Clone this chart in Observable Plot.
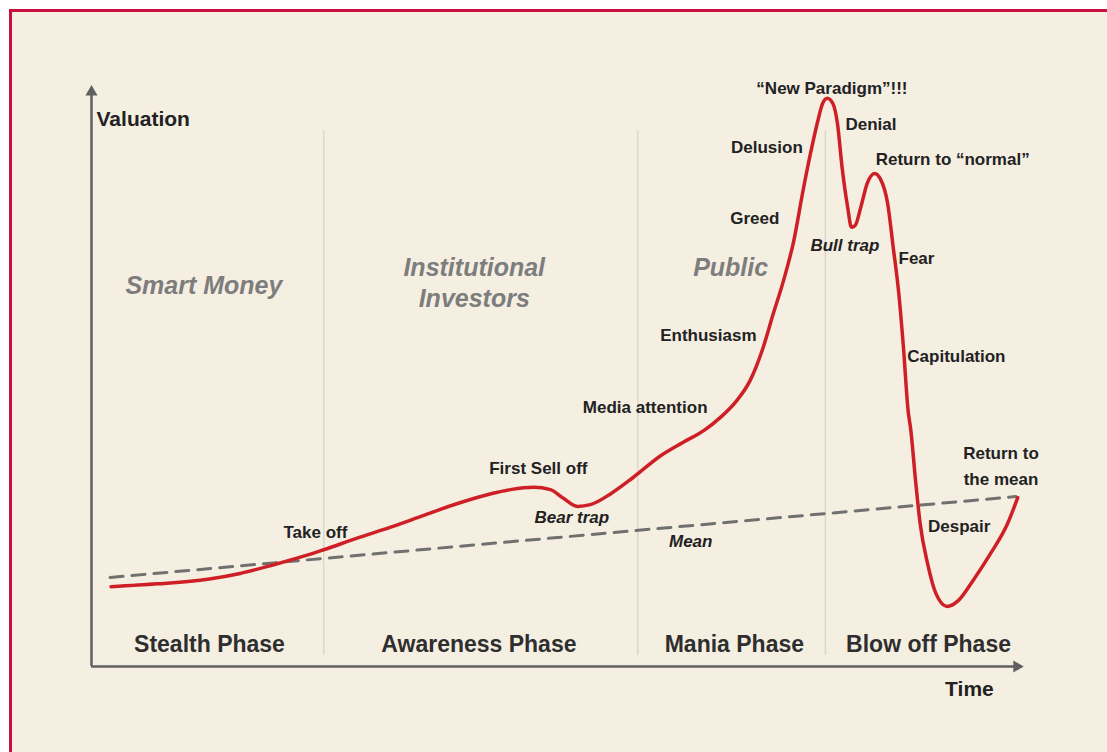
<!DOCTYPE html>
<html><head><meta charset="utf-8">
<script src="https://cdn.jsdelivr.net/npm/d3@7"></script>
<script src="https://cdn.jsdelivr.net/npm/@observablehq/plot@0.6"></script>
<style>
html,body{margin:0;padding:0;background:#fff;width:1107px;height:752px;overflow:hidden}
#frame{position:absolute;left:9px;top:9px;width:1098px;height:743px;border-top:3px solid #c8103f;border-left:3px solid #c8103f;background:#f5efe2;box-sizing:border-box}
#chart{position:absolute;left:0;top:0}
</style></head><body>
<div id="frame"></div><div id="chart"></div>
<script>
// Market cycle curve (time 0-100, valuation 0-100)
const curveTime  = [2.1, 7.1, 12.5, 16.0, 19.6, 23.3, 25.0, 28.6, 32.2, 35.7, 39.4, 43.0, 45.1, 47.6, 49.4, 50.8, 52.3, 53.7, 55.9, 58.3, 61.3, 63.7, 65.9, 67.7, 69.3, 70.9, 72.3, 73.4, 74.5, 75.6, 76.6, 77.4, 78.2, 78.7, 79.2, 79.8, 80.3, 80.8, 81.4, 81.8, 82.2, 82.8, 83.5, 84.3, 84.9, 85.7, 86.3, 86.9, 87.4, 87.9, 88.2, 88.7, 89.2, 90.0, 90.9, 92.1, 93.3, 94.9, 96.8, 98.6, 99.7];
const curveValue = [13.8, 14.3, 15.1, 16.1, 17.6, 19.3, 20.2, 22.2, 24.1, 26.1, 28.2, 29.9, 30.6, 31.0, 30.6, 29.1, 27.7, 28.0, 29.9, 32.7, 36.5, 38.8, 40.8, 43.1, 45.7, 49.5, 55.2, 61.1, 66.8, 73.7, 82.4, 88.8, 94.5, 97.4, 98.3, 97.4, 93.9, 86.3, 79.4, 76.0, 76.3, 79.4, 83.6, 85.3, 84.4, 80.1, 72.5, 64.5, 55.2, 44.3, 40.8, 32.2, 24.7, 17.8, 12.6, 10.4, 11.4, 14.9, 19.6, 24.7, 29.2];
// Long-run mean (dashed)
const meanTime  = [2.0, 99.5];
const meanValue = [15.4, 29.4];
// Phases
const phaseNames   = ["Stealth Phase", "Awareness Phase", "Mania Phase", "Blow off Phase"];
const phaseCenters = [12.7, 41.7, 69.2, 90.1];
const phaseBounds  = [25.0, 58.8, 79.0];
// Participant groups
const groupNames = ["Smart Money", "Institutional", "Investors", "Public"];
const groupTime  = [12.1, 41.2, 41.2, 68.8];
const groupValue = [65.9, 68.9, 63.5, 68.9];
// Sentiment annotations
const noteNames = ["Take off", "First Sell off", "Media attention", "Enthusiasm", "Greed", "Delusion", "\u201CNew Paradigm\u201D!!!", "Denial", "Return to \u201Cnormal\u201D", "Fear", "Capitulation", "Return to", "the mean", "Despair"];
const noteTime  = [24.1, 48.1, 59.6, 66.4, 71.4, 72.7, 79.7, 83.9, 92.7, 88.8, 93.1, 97.9, 97.9, 93.4];
const noteValue = [23.2, 34.3, 44.8, 57.3, 77.5, 89.8, 100.0, 93.8, 87.7, 70.6, 53.6, 36.9, 32.4, 24.2];
const trapNames = ["Bear trap", "Mean", "Bull trap"];
const trapTime  = [51.7, 64.5, 81.1];
const trapValue = [25.8, 21.6, 72.8];

const curve = curveTime.map((t, i) => ({t, v: curveValue[i]}));
const mean = meanTime.map((t, i) => ({t, v: meanValue[i]}));
const font = "'Liberation Sans', Arial, sans-serif";
const txt = (labels, xs, ys, o) => Plot.text(labels, {x: (d, i) => xs[i], y: (d, i) => ys[i], text: d => d, fontFamily: font, ...o});

const chart = Plot.plot({
  width: 1107, height: 752,
  marginLeft: 91, marginRight: 87, marginTop: 88, marginBottom: 86,
  x: {domain: [0, 100], axis: null},
  y: {domain: [0, 100], axis: null},
  style: {background: "transparent", overflow: "visible"},
  marks: [
    Plot.ruleX(phaseBounds, {x: d => d, y1: 1.9, y2: 92.7, stroke: "#ddd7cb", strokeWidth: 1.5}),
    Plot.line(mean, {x: "t", y: "v", stroke: "#707070", strokeWidth: 3, strokeDasharray: "13,9"}),
    Plot.line(curve, {x: "t", y: "v", stroke: "#cf1f26", strokeWidth: 3.5, curve: "monotone-x"}),
    Plot.ruleY([0], {x1: 0, x2: 99.6, stroke: "#606060", strokeWidth: 2.5}),
    Plot.ruleX([0], {y1: 0, y2: 99.4, stroke: "#606060", strokeWidth: 2.5}),
    Plot.dot([[99.6, 0, 90], [0, 99.4, 0]], {x: d => d[0], y: d => d[1], rotate: d => d[2], symbol: "triangle", r: 4.5, fill: "#606060"}),
    txt(["Valuation"], [0.54], [94.6], {textAnchor: "start", fontSize: 21, fontWeight: "bold", fill: "#222"}),
    txt(["Time"], [94.5], [-4.0], {fontSize: 21, fontWeight: "bold", fill: "#222"}),
    txt(phaseNames, phaseCenters, phaseCenters.map(() => 3.8), {fontSize: 23, fontWeight: "bold", fill: "#2e2e2e", ariaLabel: "phases"}),
    txt(groupNames, groupTime, groupValue, {fontSize: 25, fontWeight: "bold", fontStyle: "italic", fill: "#7d7d7d", ariaLabel: "groups"}),
    txt(noteNames, noteTime, noteValue, {fontSize: 17, fontWeight: "bold", fill: "#222"}),
    txt(trapNames, trapTime, trapValue, {fontSize: 17, fontWeight: "bold", fontStyle: "italic", fill: "#222"})
  ]
});
document.getElementById("chart").append(chart);
d3.select(chart).selectAll('g[aria-label="phases"] text').style("letter-spacing", "0.4px");
d3.select(chart).selectAll('g[aria-label="groups"] text').style("letter-spacing", "0.5px");
</script>
</body></html>
